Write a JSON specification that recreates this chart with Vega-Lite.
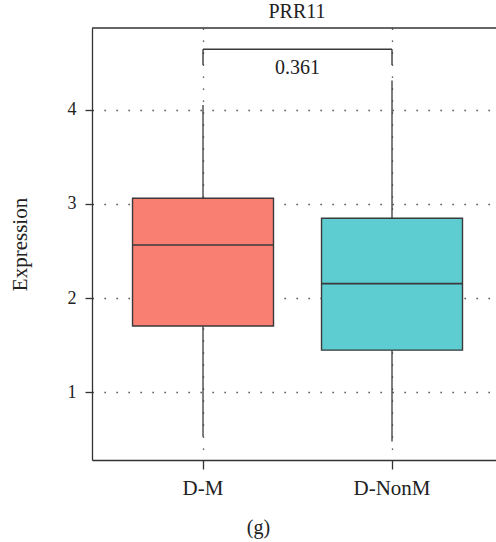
{
  "$schema": "https://vega.github.io/schema/vega-lite/v6.json",
  "width": 404,
  "height": 432,
  "autosize": {"type": "none"},
  "padding": {"left": 92, "top": 28, "right": 0, "bottom": 82},
  "title": {
    "text": "PRR11",
    "font": "Liberation Serif",
    "fontSize": 20,
    "fontWeight": "normal",
    "color": "#222222",
    "anchor": "middle",
    "offset": 5,
    "dx": 3
  },
  "config": {
    "view": {"stroke": null},
    "font": "Liberation Serif"
  },
  "datasets": {
    "boxes": [
      {"group": "D-M", "lower": 0.53, "q1": 1.706, "median": 2.565, "q3": 3.06, "upper": 4.05},
      {"group": "D-NonM", "lower": 0.48, "q1": 1.449, "median": 2.155, "q3": 2.848, "upper": 4.31}
    ],
    "bracket": [
      {"group": "D-M", "top": 4.64, "foot": 4.474},
      {"group": "D-NonM", "top": 4.64, "foot": 4.474}
    ],
    "pvalue": [
      {"from": "D-M", "to": "D-NonM", "p": "0.361"}
    ]
  },
  "layer": [
    {
      "data": {"name": "boxes"},
      "mark": {"type": "rule", "color": "#3a3a3a", "strokeWidth": 1.3},
      "encoding": {
        "x": {
          "field": "group",
          "type": "nominal",
          "scale": {"domain": ["D-M", "D-NonM"], "paddingInner": 0, "paddingOuter": 0.0688, "align": 0.635},
          "axis": {
            "orient": "bottom",
            "title": "(g)",
            "titleFont": "Liberation Serif",
            "titleFontSize": 20,
            "titleFontWeight": "normal",
            "titleColor": "#222222",
            "titleX": 166,
            "titleY": 67,
            "titleBaseline": "middle",
            "titleAlign": "center",
            "labelAngle": 0,
            "labelFont": "Liberation Serif",
            "labelFontSize": 21,
            "labelColor": "#222222",
            "labelPadding": 8,
            "domain": true,
            "domainColor": "#333333",
            "domainWidth": 1.3,
            "ticks": true,
            "tickSize": 9,
            "tickColor": "#333333",
            "tickWidth": 1.3,
            "grid": true,
            "gridColor": "#333333",
            "gridDash": [1.3, 10.7],
            "gridWidth": 1.3
          }
        },
        "y": {
          "field": "lower",
          "type": "quantitative",
          "scale": {"domain": [0.284, 4.866], "nice": false, "zero": false},
          "axis": {
            "values": [1, 2, 3, 4],
            "format": "d",
            "title": "Expression",
            "titleFont": "Liberation Serif",
            "titleFontSize": 21,
            "titleFontWeight": "normal",
            "titleColor": "#222222",
            "titleX": -72,
            "titleY": 216,
            "titleAngle": -90,
            "titleBaseline": "middle",
            "titleAlign": "center",
            "labelFont": "Liberation Serif",
            "labelFontSize": 18,
            "labelColor": "#222222",
            "labelPadding": 9,
            "domain": true,
            "domainColor": "#333333",
            "domainWidth": 1.3,
            "ticks": true,
            "tickSize": 7,
            "tickColor": "#333333",
            "tickWidth": 1.3,
            "grid": true,
            "gridColor": "#333333",
            "gridDash": [1.3, 10.7],
            "gridWidth": 1.3
          }
        },
        "y2": {"field": "upper"}
      }
    },
    {
      "data": {"name": "boxes"},
      "mark": {"type": "bar", "stroke": "#3a3a3a", "strokeWidth": 1.4, "width": {"band": 0.746}},
      "encoding": {
        "x": {"field": "group", "type": "nominal"},
        "y": {"field": "q1", "type": "quantitative"},
        "y2": {"field": "q3"},
        "fill": {
          "field": "group",
          "type": "nominal",
          "scale": {"domain": ["D-M", "D-NonM"], "range": ["#FA7F73", "#5DCDD1"]},
          "legend": null
        },
        "opacity": {"value": 1}
      }
    },
    {
      "data": {"name": "boxes"},
      "mark": {"type": "tick", "color": "#3a3a3a", "thickness": 1.6, "size": 141, "opacity": 1},
      "encoding": {
        "x": {"field": "group", "type": "nominal"},
        "y": {"field": "median", "type": "quantitative"}
      }
    },
    {
      "data": {"name": "pvalue"},
      "mark": {"type": "rule", "color": "#3a3a3a", "strokeWidth": 1.4},
      "encoding": {
        "x": {"field": "from", "type": "nominal"},
        "x2": {"field": "to"},
        "y": {"datum": 4.64}
      }
    },
    {
      "data": {"name": "bracket"},
      "mark": {"type": "rule", "color": "#3a3a3a", "strokeWidth": 1.4},
      "encoding": {
        "x": {"field": "group", "type": "nominal"},
        "y": {"field": "top", "type": "quantitative"},
        "y2": {"field": "foot"}
      }
    },
    {
      "data": {"name": "pvalue"},
      "mark": {"type": "text", "font": "Liberation Serif", "fontSize": 20, "color": "#222222", "baseline": "alphabetic", "align": "center", "dx": 94.5},
      "encoding": {
        "x": {"field": "from", "type": "nominal"},
        "y": {"datum": 4.38},
        "text": {"field": "p"}
      }
    },
    {
      "data": {"values": [{}]},
      "mark": {"type": "rule", "color": "#333333", "strokeWidth": 1.3},
      "encoding": {
        "y": {"datum": 4.866}
      }
    }
  ]
}
